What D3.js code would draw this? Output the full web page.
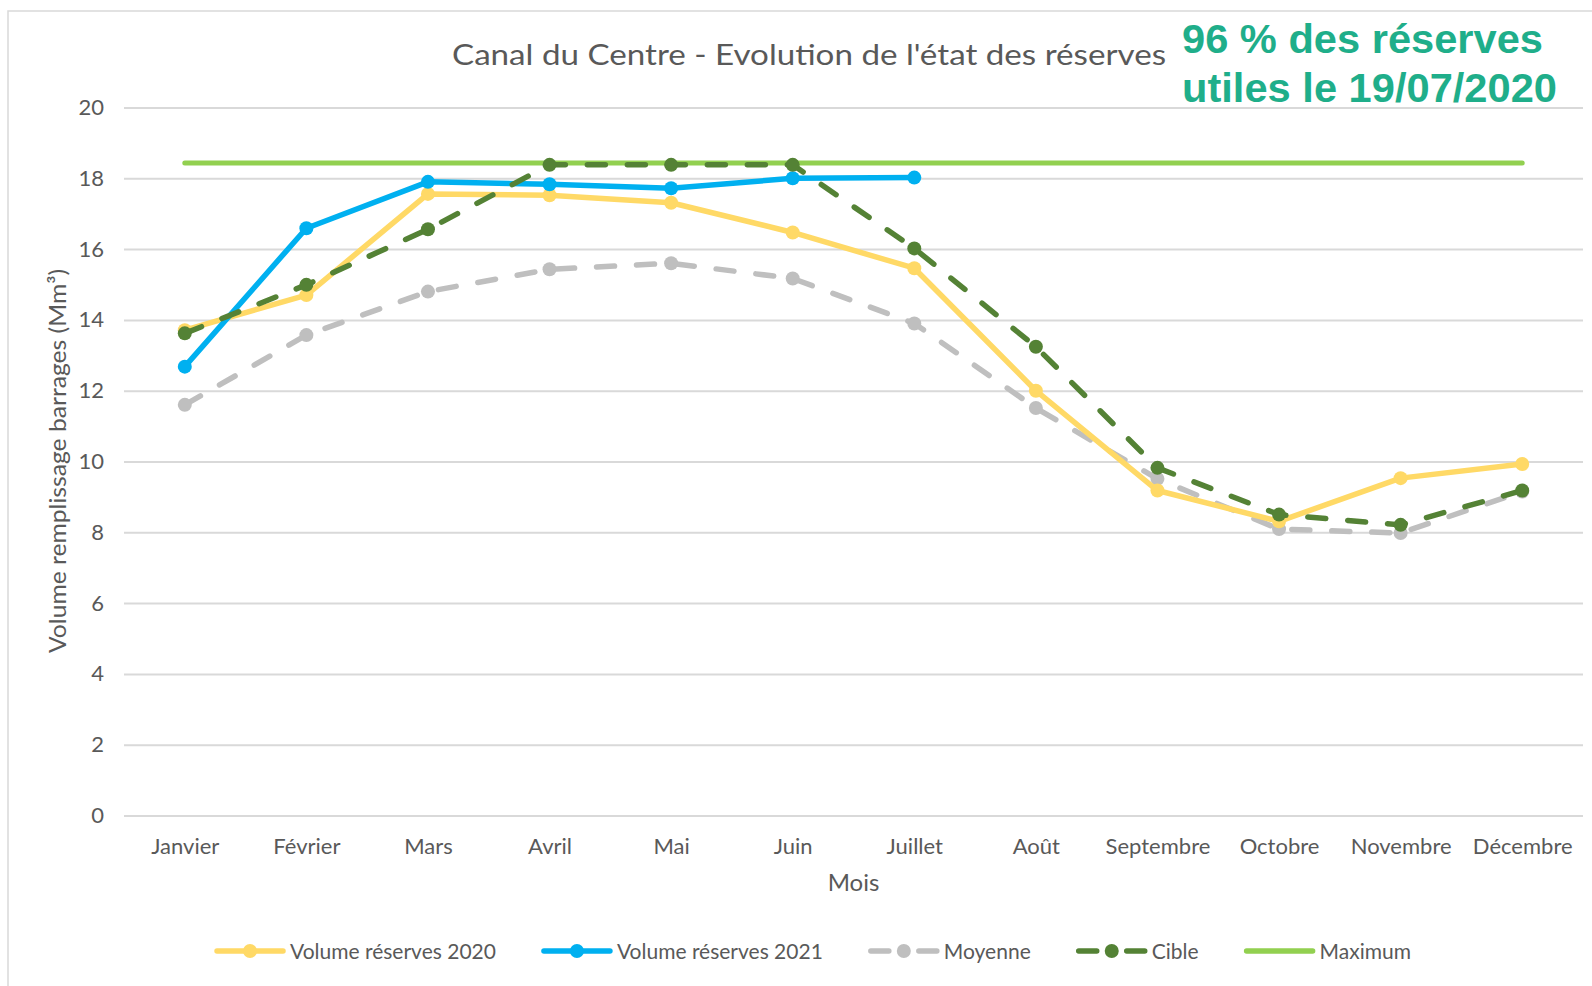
<!DOCTYPE html>
<html>
<head>
<meta charset="utf-8">
<title>Canal du Centre</title>
<script src="https://cdn.jsdelivr.net/npm/d3@7"></script>
<style>
  body {margin:0; background:#fff;}
  svg {display:block; font-family:Lato, "Open Sans", sans-serif;}
  .tick text {fill:#595959; font-size:22px;}
  .grid line {stroke:#d9d9d9; stroke-width:2px;}
  .legend text {fill:#595959; font-size:21px;}
</style>
</head>
<body>
<svg id="chart" width="1592" height="986"></svg>
<script>
  // data
  var months   = ["Janvier","Février","Mars","Avril","Mai","Juin","Juillet","Août","Septembre","Octobre","Novembre","Décembre"];
  var vol2020  = [13.71, 14.70, 17.56, 17.52, 17.31, 16.47, 15.46, 12.00, 9.18, 8.31, 9.53, 9.93];
  var vol2021  = [12.68, 16.59, 17.90, 17.83, 17.72, 18.00, 18.02, null, null, null, null, null];
  var moyenne  = [11.60, 13.57, 14.80, 15.43, 15.60, 15.17, 13.90, 11.51, 9.51, 8.09, 7.98, 9.15];
  var cible    = [13.62, 14.99, 16.56, 18.38, 18.38, 18.38, 16.02, 13.24, 9.82, 8.50, 8.21, 9.18];
  var maximum  = [18.43, 18.43, 18.43, 18.43, 18.43, 18.43, 18.43, 18.43, 18.43, 18.43, 18.43, 18.43];
  var yTicks   = [0, 2, 4, 6, 8, 10, 12, 14, 16, 18, 20];

  var series = [
    {name:"Maximum",              values:maximum, color:"#92d050", dash:null,    marker:false, width:5},
    {name:"Moyenne",              values:moyenne, color:"#bfbfbf", dash:"18,22", marker:true,  width:5.5},
    {name:"Volume réserves 2020", values:vol2020, color:"#ffd966", dash:null,    marker:true,  width:5.5},
    {name:"Volume réserves 2021", values:vol2021, color:"#00b0f0", dash:null,    marker:true,  width:5.5},
    {name:"Cible",                values:cible,   color:"#548235", dash:"18,22", marker:true,  width:5.5}
  ];
  var legendOrder = ["Volume réserves 2020","Volume réserves 2021","Moyenne","Cible","Maximum"];

  var svg = d3.select("#chart");
  var plot = {left:124, right:1583, top:107.5, bottom:815.5};

  // outer frame
  svg.append("rect")
     .attr("x",8).attr("y",11).attr("width",1620).attr("height",1000)
     .attr("fill","none").attr("stroke","#d9d9d9").attr("stroke-width",1.5);

  var x = d3.scalePoint().domain(months).range([plot.left, plot.right]).padding(0.5);
  var y = d3.scaleLinear().domain([0,20]).range([plot.bottom, plot.top]);

  // y axis + gridlines
  var yAxis = svg.append("g")
     .attr("class","grid")
     .attr("transform","translate("+plot.left+",0)")
     .call(d3.axisLeft(y).tickValues(yTicks).tickSizeInner(-(plot.right-plot.left)).tickSizeOuter(0).tickPadding(20));
  yAxis.select(".domain").remove();
  yAxis.selectAll("text").attr("font-size",21).attr("font-family","Lato, sans-serif");

  // x axis labels
  var xAxis = svg.append("g")
     .attr("transform","translate(0,"+plot.bottom+")")
     .call(d3.axisBottom(x).tickSize(0).tickPadding(23));
  xAxis.select(".domain").remove();
  xAxis.selectAll("text").attr("font-size",22).attr("font-family","Lato, sans-serif");

  // axis titles
  svg.append("text")
     .attr("x",(plot.left+plot.right)/2).attr("y",891)
     .attr("text-anchor","middle").attr("fill","#595959").attr("font-size",24)
     .text("Mois");
  svg.append("text")
     .attr("transform","translate(66,461) rotate(-90)")
     .attr("text-anchor","middle").attr("fill","#595959").attr("font-size",24)
     .attr("textLength",384).attr("lengthAdjust","spacingAndGlyphs")
     .text("Volume remplissage barrages (Mm³)");

  // title
  svg.append("text")
     .attr("x",452).attr("y",65)
     .attr("fill","#595959").attr("font-size",29)
     .attr("textLength",714).attr("lengthAdjust","spacingAndGlyphs")
     .text("Canal du Centre - Evolution de l'état des réserves");

  // annotation
  var note = svg.append("g")
     .attr("font-family","'Liberation Sans', Arial, sans-serif")
     .attr("font-weight","bold").attr("font-size",41.5).attr("fill","#1fae8a");
  note.append("text").attr("x",1182).attr("y",53)
      .attr("textLength",361).attr("lengthAdjust","spacingAndGlyphs")
      .text("96 % des réserves");
  note.append("text").attr("x",1182).attr("y",101.5)
      .attr("textLength",375).attr("lengthAdjust","spacingAndGlyphs")
      .text("utiles le 19/07/2020");

  // lines
  var line = d3.line()
     .defined(function(d){return d != null;})
     .x(function(d,i){return x(months[i]);})
     .y(function(d){return y(d);});

  series.forEach(function(s){
    var g = svg.append("g");
    g.append("path")
     .datum(s.values)
     .attr("d",line)
     .attr("fill","none")
     .attr("stroke",s.color)
     .attr("stroke-width",s.width)
     .attr("stroke-linecap","round")
     .attr("stroke-linejoin","round")
     .attr("stroke-dasharray",s.dash);
    if (s.marker) {
      g.selectAll("circle")
       .data(s.values.map(function(v,i){return {v:v,i:i};}).filter(function(d){return d.v != null;}))
       .enter().append("circle")
       .attr("cx",function(d){return x(months[d.i]);})
       .attr("cy",function(d){return y(d.v);})
       .attr("r",7)
       .attr("fill",s.color);
    }
  });

  // legend
  var legend = svg.append("g").attr("class","legend");
  var symW = 70, gapText = 5, gapItem = 46, ly = 951;
  var items = legendOrder.map(function(n){return series.filter(function(s){return s.name==n;})[0];});
  var cursor = 0;
  var lg = items.map(function(s){
    var it = legend.append("g");
    it.append("line")
      .attr("x1",2).attr("x2",symW-2).attr("y1",0).attr("y2",0)
      .attr("stroke",s.color).attr("stroke-width",5.5)
      .attr("stroke-linecap","round")
      .attr("stroke-dasharray",s.dash ? "18,30,18" : null);
    if (s.marker) it.append("circle").attr("cx",symW/2).attr("cy",0).attr("r",7).attr("fill",s.color);
    var t = it.append("text").attr("x",symW+gapText).attr("y",8).text(s.name);
    var w = symW + gapText + t.node().getComputedTextLength();
    var start = cursor;
    cursor += w + gapItem;
    return {g:it, start:start};
  });
  var total = cursor - gapItem;
  var offset = 813 - total/2;
  lg.forEach(function(d){ d.g.attr("transform","translate("+(offset+d.start)+","+ly+")"); });
</script>
</body>
</html>
